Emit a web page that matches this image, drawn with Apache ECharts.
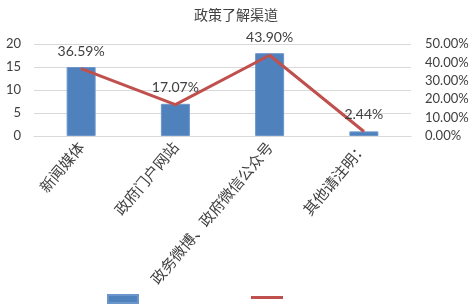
<!DOCTYPE html>
<html><head><meta charset="utf-8">
<script src="https://cdn.jsdelivr.net/npm/echarts@6/dist/echarts.min.js"></script>
<style>html,body{margin:0;padding:0;background:#fff}#c{width:472px;height:306px}</style>
</head><body><div id="c"></div>
<script>
var categories = ['新闻媒体', '政府门户网站', '政务微博、政府微信公众号', '其他请注明：'];
var counts = [15, 7, 18, 1];
var shares = [0.3659, 0.1707, 0.4390, 0.0244];
var leftTicks = [0, 5, 10, 15, 20];
var rightTicks = [0, 0.1, 0.2, 0.3, 0.4, 0.5];

var chart = echarts.init(document.getElementById('c'));
chart.setOption({
  animation: false,
  backgroundColor: '#fff',
  title: {
    text: '政策了解渠道', left: 'center', top: 3,
    textStyle: { fontFamily: 'Noto Sans CJK SC', fontSize: 14, fontWeight: 'normal', color: '#404040' }
  },
  legend: [{
    data: [{ name: 'a', icon: 'rect' }], left: 107, top: 294, padding: 0, itemWidth: 30, itemHeight: 8,
    formatter: function () { return ''; }, selectedMode: false
  }, {
    data: [{ name: 'b', icon: 'rect', itemStyle: { color: '#c0504d' } }], left: 251, top: 296, padding: 0, itemWidth: 32, itemHeight: 3,
    formatter: function () { return ''; }, selectedMode: false
  }],
  grid: { left: 34, right: 61, top: 44, bottom: 170, containLabel: false },
  xAxis: {
    type: 'category', data: categories,
    axisTick: { show: false },
    axisLine: { lineStyle: { color: '#d9d9d9' } },
    axisLabel: { rotate: 50, interval: 0, fontFamily: 'Noto Sans CJK SC', fontSize: 15, color: '#404040', margin: 8 }
  },
  yAxis: [{
    type: 'value', min: leftTicks[0], max: leftTicks[leftTicks.length - 1], interval: 5,
    axisLine: { show: false }, axisTick: { show: false },
    splitLine: { lineStyle: { color: '#d9d9d9' } },
    axisLabel: { fontFamily: 'Lato', fontSize: 13, color: '#404040', margin: 13 }
  }, {
    type: 'value', min: rightTicks[0], max: rightTicks[rightTicks.length - 1], interval: 0.1,
    axisLine: { show: false }, axisTick: { show: false }, splitLine: { show: false },
    axisLabel: {
      fontFamily: 'Lato', fontSize: 13, color: '#404040', margin: 14,
      formatter: function (v) { return (v * 100).toFixed(2) + '%'; }
    }
  }],
  series: [{
    name: 'a', type: 'bar', data: counts, barWidth: 29,
    itemStyle: { color: '#4f81bd', borderColor: '#6a96cc', borderWidth: 1 }
  }, {
    name: 'b', type: 'line', yAxisIndex: 1, data: shares,
    symbol: 'circle', symbolSize: 1, showSymbol: true,
    lineStyle: { color: '#c0504d', width: 3 }, itemStyle: { color: '#c0504d' },
    label: {
      show: true, position: 'top', distance: 10,
      fontFamily: 'Lato', fontSize: 14, color: '#404040',
      formatter: function (p) { return (p.value * 100).toFixed(2) + '%'; }
    }
  }]
});
</script></body></html>
